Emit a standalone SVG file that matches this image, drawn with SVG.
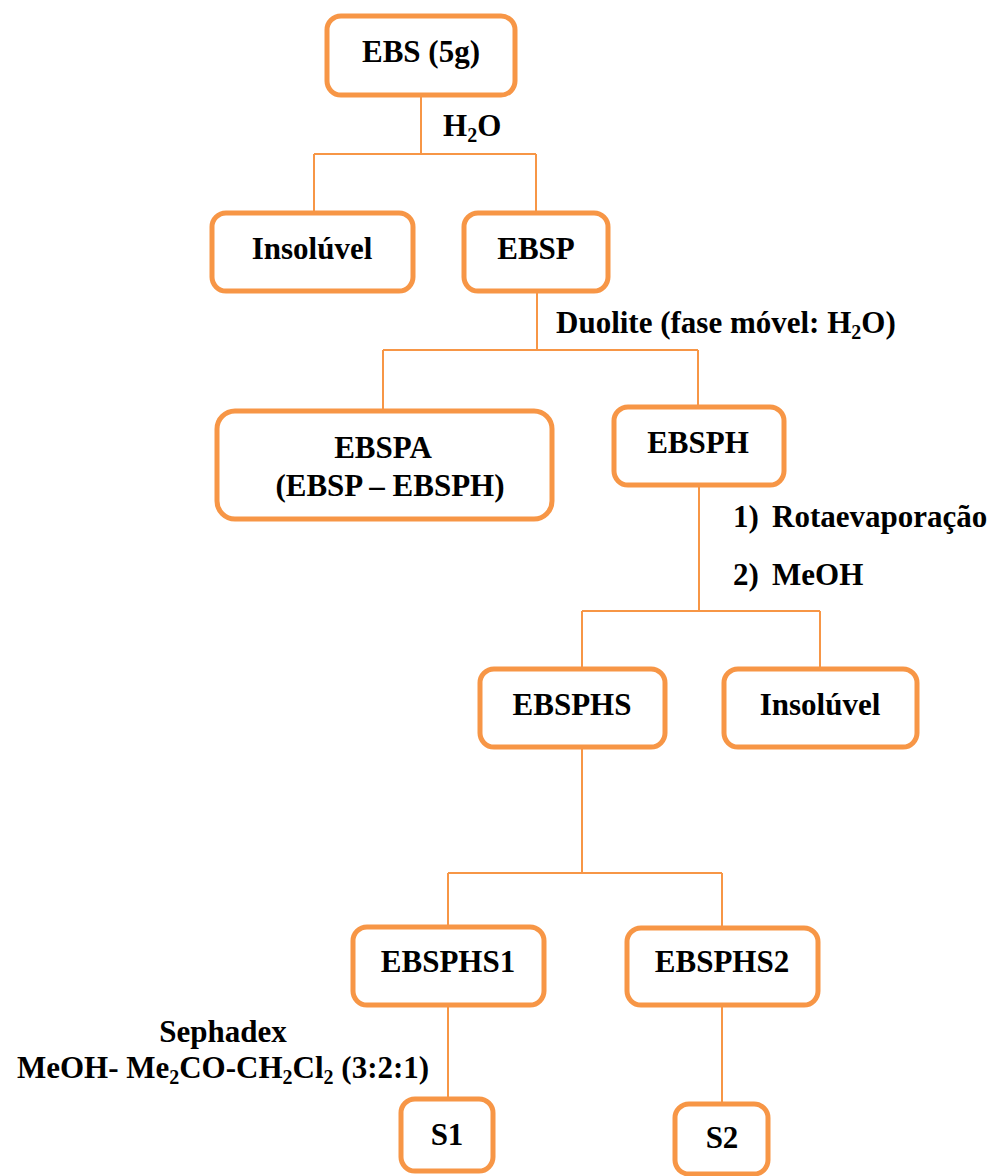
<svg xmlns="http://www.w3.org/2000/svg" width="996" height="1176" viewBox="0 0 996 1176">
<rect width="996" height="1176" fill="#fff"/>
<g id="connectors" fill="none" stroke="#F79646" stroke-width="2">
<path d="M421 95V154M314 154H536M314 154V213M536 154V213"/>
<path d="M537 291V350M383 350H698M383 350V411M698 350V407"/>
<path d="M699 485V611M582 611H820M582 611V669M820 611V669"/>
<path d="M582 747V873M448 873H722M448 873V927M722 873V927"/>
<path d="M448 1005V1098M722 1005V1103"/>
</g>
<g id="labels">
<text font-family="Times New Roman" font-size="31" font-weight="bold" x="443" y="136">H<tspan font-size="20" dy="6">2</tspan><tspan dy="-6">O</tspan></text>
<text font-family="Times New Roman" font-size="31" font-weight="bold" x="556" y="333">Duolite (fase móvel: H<tspan font-size="20" dy="6">2</tspan><tspan dy="-6">O)</tspan></text>
<text font-family="Times New Roman" font-size="31" font-weight="bold" x="733" y="527">1)</text>
<text font-family="Times New Roman" font-size="31" font-weight="bold" x="772" y="527">Rotaevaporação</text>
<text font-family="Times New Roman" font-size="31" font-weight="bold" x="733" y="585">2)</text>
<text font-family="Times New Roman" font-size="31" font-weight="bold" x="772" y="585">MeOH</text>
<text font-family="Times New Roman" font-size="31" font-weight="bold" text-anchor="middle" x="223" y="1042">Sephadex</text>
<text font-family="Times New Roman" font-size="31" font-weight="bold" text-anchor="middle" x="223" y="1078">MeOH- Me<tspan font-size="20" dy="6">2</tspan><tspan dy="-6">CO-CH</tspan><tspan font-size="20" dy="6">2</tspan><tspan dy="-6">Cl</tspan><tspan font-size="20" dy="6">2</tspan><tspan dy="-6"> (3:2:1)</tspan></text>
</g>
<g id="EBS"><rect fill="#fff" stroke="#F79646" stroke-width="5" x="327" y="16" width="188" height="79" rx="14"/><text font-family="Times New Roman" font-size="31" font-weight="bold" text-anchor="middle" x="421" y="62">EBS (5g)</text></g>
<g id="Insoluvel1"><rect fill="#fff" stroke="#F79646" stroke-width="5" x="212" y="213" width="201" height="78" rx="14"/><text font-family="Times New Roman" font-size="31" font-weight="bold" text-anchor="middle" x="312" y="259">Insolúvel</text></g>
<g id="EBSP"><rect fill="#fff" stroke="#F79646" stroke-width="5" x="464" y="213" width="144" height="78" rx="14"/><text font-family="Times New Roman" font-size="31" font-weight="bold" text-anchor="middle" x="536" y="259">EBSP</text></g>
<g id="EBSPA"><rect fill="#fff" stroke="#F79646" stroke-width="5" x="217" y="411" width="335" height="108" rx="18"/><text font-family="Times New Roman" font-size="31" font-weight="bold" text-anchor="middle" x="383" y="458">EBSPA</text><text font-family="Times New Roman" font-size="31" font-weight="bold" text-anchor="middle" x="390" y="496">(EBSP – EBSPH)</text></g>
<g id="EBSPH"><rect fill="#fff" stroke="#F79646" stroke-width="5" x="614" y="407" width="170" height="78" rx="14"/><text font-family="Times New Roman" font-size="31" font-weight="bold" text-anchor="middle" x="698" y="453">EBSPH</text></g>
<g id="EBSPHS"><rect fill="#fff" stroke="#F79646" stroke-width="5" x="480" y="669" width="185" height="78" rx="14"/><text font-family="Times New Roman" font-size="31" font-weight="bold" text-anchor="middle" x="572" y="715">EBSPHS</text></g>
<g id="Insoluvel2"><rect fill="#fff" stroke="#F79646" stroke-width="5" x="724" y="669" width="193" height="78" rx="14"/><text font-family="Times New Roman" font-size="31" font-weight="bold" text-anchor="middle" x="820" y="715">Insolúvel</text></g>
<g id="EBSPHS1"><rect fill="#fff" stroke="#F79646" stroke-width="5" x="353" y="927" width="191" height="78" rx="14"/><text font-family="Times New Roman" font-size="31" font-weight="bold" text-anchor="middle" x="448" y="972">EBSPHS1</text></g>
<g id="EBSPHS2"><rect fill="#fff" stroke="#F79646" stroke-width="5" x="627" y="928" width="191" height="77" rx="14"/><text font-family="Times New Roman" font-size="31" font-weight="bold" text-anchor="middle" x="722" y="972">EBSPHS2</text></g>
<g id="S1"><rect fill="#fff" stroke="#F79646" stroke-width="5" x="401" y="1099" width="92" height="72" rx="14"/><text font-family="Times New Roman" font-size="31" font-weight="bold" text-anchor="middle" x="447" y="1145">S1</text></g>
<g id="S2"><rect fill="#fff" stroke="#F79646" stroke-width="5" x="675" y="1104" width="93" height="70" rx="14"/><text font-family="Times New Roman" font-size="31" font-weight="bold" text-anchor="middle" x="722" y="1148">S2</text></g>
</svg>
